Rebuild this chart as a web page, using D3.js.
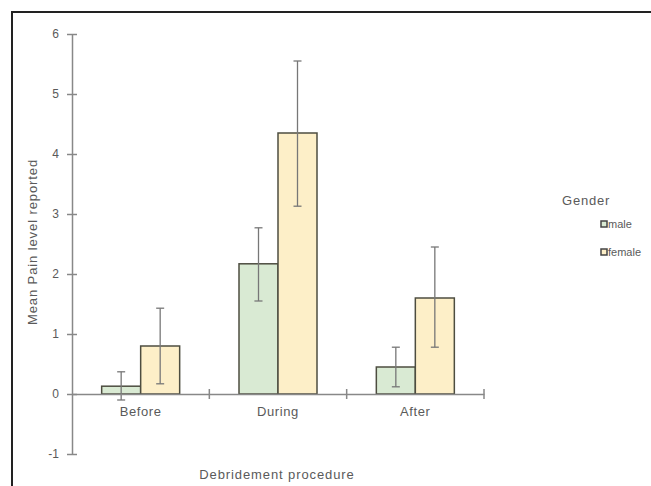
<!DOCTYPE html>
<html>
<head>
<meta charset="utf-8">
<script src="https://cdn.jsdelivr.net/npm/d3@7"></script>
<style>
  body { margin: 0; background: #fff; }
  text { font-family: "Liberation Sans", Arial, sans-serif; fill: #5a5a5a; }
</style>
</head>
<body>
<div id="chart"></div>
<script>
// Data
let categories = ["Before", "During", "After"];
let genders = ["male", "female"];
let maleMeans = [0.13, 2.17, 0.45];
let maleLow = [-0.1, 1.55, 0.12];
let maleHigh = [0.37, 2.77, 0.78];
let femaleMeans = [0.8, 4.35, 1.6];
let femaleLow = [0.17, 3.13, 0.78];
let femaleHigh = [1.43, 5.55, 2.45];
let yTicks = [-1, 0, 1, 2, 3, 4, 5, 6];

let colors = {male: "#d9ead3", female: "#fdefc8"};

let rows = [];
categories.forEach((c, i) => {
    rows.push({cat: c, g: "male", v: maleMeans[i], lo: maleLow[i], hi: maleHigh[i]});
    rows.push({cat: c, g: "female", v: femaleMeans[i], lo: femaleLow[i], hi: femaleHigh[i]});
});

let width = 651, height = 486;
let svg = d3.select("#chart").append("svg")
    .attr("width", width)
    .attr("height", height);

// Frame
svg.append("path")
    .attr("d", "M12,486 V12 H651")
    .attr("fill", "none")
    .attr("stroke", "#222")
    .attr("stroke-width", 2);

let x0 = 72, x1 = 484;
let y = d3.scaleLinear().domain([-1, 6]).range([454, 34]);
let x = d3.scaleBand().domain(categories).range([x0, x1]).paddingInner(0).paddingOuter(0);
let xg = d3.scaleBand().domain(genders).range([0, 78]);

// Bars
let bars = svg.append("g");
bars.selectAll("rect")
    .data(rows)
    .enter()
    .append("rect")
    .attr("x", d => x(d.cat) + (x.bandwidth() - 78) / 2 + xg(d.g))
    .attr("width", xg.bandwidth())
    .attr("y", d => y(Math.max(0, d.v)))
    .attr("height", d => Math.abs(y(d.v) - y(0)))
    .attr("fill", d => colors[d.g])
    .attr("stroke", "#4d4d40")
    .attr("stroke-width", 1.5);

// Error bars
let errs = svg.append("g").attr("stroke", "#777").attr("stroke-width", 1.3);
rows.forEach(d => {
    let cx = x(d.cat) + (x.bandwidth() - 78) / 2 + xg(d.g) + xg.bandwidth() / 2;
    errs.append("line").attr("x1", cx).attr("x2", cx).attr("y1", y(d.lo)).attr("y2", y(d.hi));
    errs.append("line").attr("x1", cx - 4).attr("x2", cx + 4).attr("y1", y(d.lo)).attr("y2", y(d.lo));
    errs.append("line").attr("x1", cx - 4).attr("x2", cx + 4).attr("y1", y(d.hi)).attr("y2", y(d.hi));
});

// Y axis
let yAxis = svg.append("g")
    .attr("transform", "translate(" + x0 + ",0)")
    .call(d3.axisLeft(y).tickValues(yTicks).tickSize(0).tickPadding(13)
        .tickFormat(d => String(d)));
yAxis.select(".domain").attr("stroke", "#888").attr("stroke-width", 1.5);
yAxis.selectAll(".tick line").remove();
yAxis.selectAll(".tick").append("line")
    .attr("x1", -5).attr("x2", 5)
    .attr("stroke", "#888").attr("stroke-width", 1.5);
yAxis.selectAll("text")
    .style("font-family", "Liberation Sans, Arial, sans-serif")
    .style("font-size", "12px")
    .attr("fill", "#5a5a5a");

// X axis at zero
let xAxis = svg.append("g")
    .attr("transform", "translate(0," + y(0) + ")")
    .call(d3.axisBottom(x).tickSize(0).tickPadding(13));
xAxis.select(".domain").attr("stroke", "#888").attr("stroke-width", 1.5);
xAxis.selectAll("text")
    .style("font-family", "Liberation Sans, Arial, sans-serif")
    .style("font-size", "13px")
    .style("letter-spacing", "0.6px")
    .attr("fill", "#5a5a5a");
xAxis.selectAll(".bnd")
    .data(categories.slice(1).map(c => x(c)).concat([x1]))
    .enter()
    .append("line")
    .attr("x1", d => d).attr("x2", d => d)
    .attr("y1", -5).attr("y2", 5)
    .attr("stroke", "#888").attr("stroke-width", 1.5);

// Axis labels
svg.append("text")
    .attr("transform", "translate(37," + 242 + ") rotate(-90)")
    .attr("text-anchor", "middle")
    .style("font-size", "13px")
    .style("letter-spacing", "0.9px")
    .text("Mean Pain level reported");

svg.append("text")
    .attr("x", 277)
    .attr("y", 479)
    .attr("text-anchor", "middle")
    .style("font-size", "13px")
    .style("letter-spacing", "0.9px")
    .text("Debridement procedure");

// Legend
svg.append("text")
    .attr("x", 562)
    .attr("y", 205)
    .style("font-size", "13px")
    .style("letter-spacing", "0.8px")
    .text("Gender");

genders.forEach((g, i) => {
    let ly = 224 + i * 28;
    svg.append("rect")
        .attr("x", 601).attr("y", ly - 3)
        .attr("width", 6).attr("height", 6)
        .attr("fill", colors[g])
        .attr("stroke", "#444").attr("stroke-width", 1.5);
    svg.append("text")
        .attr("x", 608).attr("y", ly + 4)
        .style("font-size", "11px")
        .text(g);
});
</script>
</body>
</html>
